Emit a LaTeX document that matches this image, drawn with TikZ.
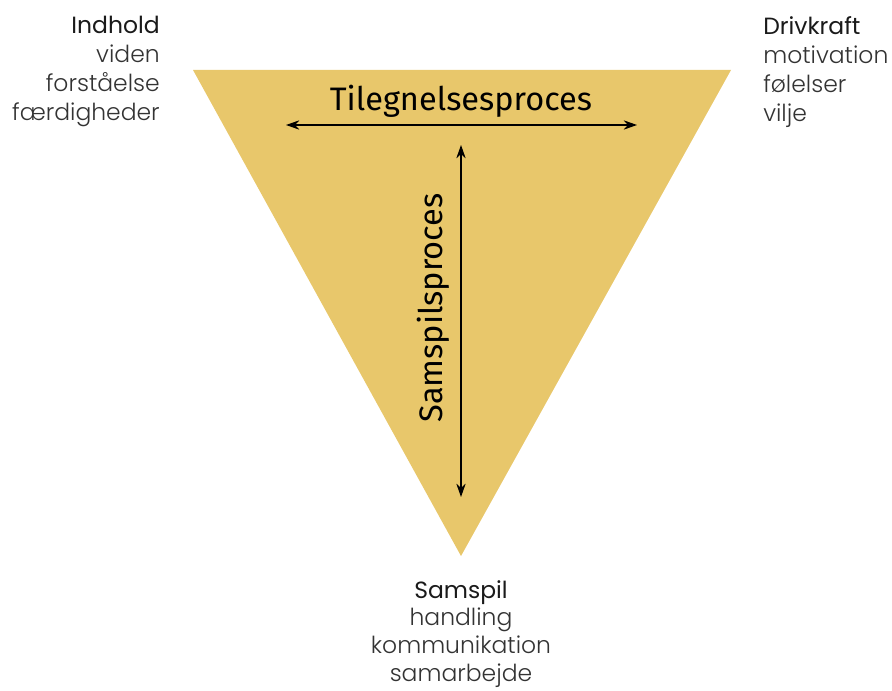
\documentclass[tikz,border=0pt]{standalone}
\usepackage{fontspec}
\setmainfont{Poppins}
\newfontfamily\popl{Poppins Light}
\newfontfamily\procfont{Fira Sans}
\usetikzlibrary{arrows.meta}
\definecolor{tri}{HTML}{E8C76B}
\definecolor{head}{HTML}{1A1A1A}
\definecolor{body}{HTML}{333333}
\begin{document}
\begin{tikzpicture}[x=0.75pt,y=-0.75pt,
  corner/.style={inner sep=0pt, font=\popl\fontsize{17.6}{21.75}\selectfont, text=body},
  bottomtxt/.style={inner sep=0pt, font=\popl\fontsize{17.6}{20.8}\selectfont, text=body},
  proc/.style={inner sep=0pt, font=\procfont\fontsize{24.4}{28}\selectfont, text=black},
  twoway/.style={{Stealth[length=10pt,width=7pt]}-{Stealth[length=10pt,width=7pt]}, line width=1.1pt, draw=black}]
\useasboundingbox (0,0) rectangle (892,691);
\fill[tri] (193,70) -- (731,70) -- (461,556) -- cycle;
% corner labels
\node[corner, anchor=north east, align=right] (indhold) at (160,16)
  {{\fontspec{Poppins}\color{head}Indhold}\\viden\\forståelse\\færdigheder};
\node[corner, anchor=north west, align=left] (drivkraft) at (763,16)
  {{\fontspec{Poppins}\color{head}Drivkraft}\\motivation\\følelser\\vilje};
\node[bottomtxt, anchor=north, align=center] (samspil) at (461,580)
  {{\fontspec{Poppins}\color{head}Samspil}\\handling\\kommunikation\\samarbejde};
% process labels
\node[proc] (tileg) at (461,101) {Tilegnelsesproces};
\node[proc, rotate=90] (samproc) at (433,308) {Samspilsproces};
% arrows
\coordinate (hl) at (286,125);
\coordinate (hr) at (637,125);
\coordinate (vt) at (461,145);
\coordinate (vb) at (461,497);
\draw[twoway] (hl) -- (hr);
\draw[twoway] (vt) -- (vb);
\end{tikzpicture}
\end{document}
